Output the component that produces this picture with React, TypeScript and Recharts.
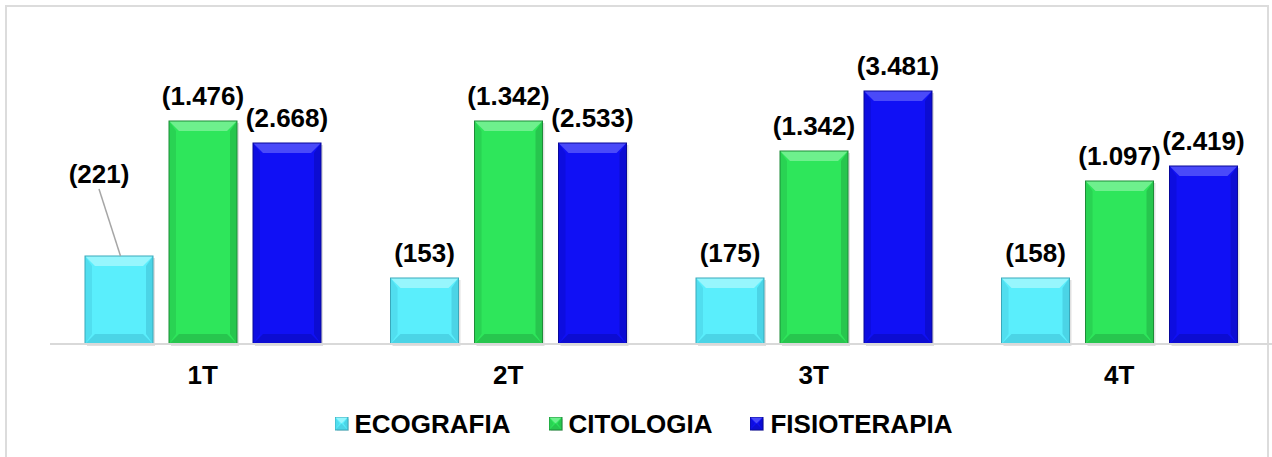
import React from 'react'
import { BarChart, Bar, XAxis, YAxis, LabelList } from 'recharts'

// trimestres
const trimestres = ['1T', '2T', '3T', '4T']

// altura dibujada de cada barra (unidades del eje, 0-300)
const ecografiaAltura = [88, 66, 66, 66]
const citologiaAltura = [223, 223, 193, 163]
const fisioterapiaAltura = [201, 201, 253, 178]

// valores mostrados en las etiquetas
const ecografiaEtiqueta = [221, 153, 175, 158]
const citologiaEtiqueta = [1476, 1342, 1342, 1097]
const fisioterapiaEtiqueta = [2668, 2533, 3481, 2419]

const series = [
  { key: 'eco', name: 'ECOGRAFIA', base: '#5aeefc', light: '#97f6fd', dark: '#4bd4e6', edge: '#39a9bb' },
  { key: 'cito', name: 'CITOLOGIA', base: '#2ee65b', light: '#6ef08d', dark: '#27c64e', edge: '#1d8c38' },
  { key: 'fisio', name: 'FISIOTERAPIA', base: '#1010f5', light: '#4a4af9', dark: '#0c0cd2', edge: '#08089a' },
]

const data = trimestres.map((t, i) => ({
  trimestre: t,
  eco: ecografiaAltura[i],
  cito: citologiaAltura[i],
  fisio: fisioterapiaAltura[i],
  ecoLabel: ecografiaEtiqueta[i],
  citoLabel: citologiaEtiqueta[i],
  fisioLabel: fisioterapiaEtiqueta[i],
}))

const FONT = "'Liberation Sans', Arial, Helvetica, sans-serif"

const fmt = (v: number) => '(' + String(v).replace(/\B(?=(\d{3})+(?!\d))/g, '.') + ')'

function BevelBar(props: any) {
  const { x, y, width: w, height: h, colors } = props
  if (!w || !h) return null
  const b = Math.min(10, h / 2)
  return (
    <g>
      <rect x={x + 2} y={y + 2} width={w} height={h} fill="#000" opacity={0.12} />
      <rect x={x} y={y} width={w} height={h} fill={colors.base} />
      <polygon
        points={`${x},${y} ${x + w},${y} ${x + w - b},${y + b} ${x + b},${y + b}`}
        fill={colors.light}
      />
      <polygon
        points={`${x},${y + h} ${x + w},${y + h} ${x + w - b},${y + h - b} ${x + b},${y + h - b}`}
        fill={colors.dark}
      />
      <polygon
        points={`${x},${y} ${x + b * 0.7},${y + b} ${x + b * 0.7},${y + h - b} ${x},${y + h}`}
        fill={colors.dark}
        opacity={0.6}
      />
      <polygon
        points={`${x + w},${y} ${x + w - b * 0.7},${y + b} ${x + w - b * 0.7},${y + h - b} ${x + w},${y + h}`}
        fill={colors.dark}
      />
      <rect x={x} y={y} width={w} height={h} fill="none" stroke={colors.edge} strokeWidth={1} />
    </g>
  )
}

function makeLabel(seriesKey: string) {
  return (props: any) => {
    const vb = props.viewBox || props
    const x = vb.x ?? props.x
    const y = vb.y ?? props.y
    const width = vb.width ?? props.width
    const cx = x + width / 2
    // la primera barra de ecografía lleva la etiqueta desplazada con línea guía
    if (seriesKey === 'eco' && props.index === 0) {
      const lx = cx - 20
      const ly = y - 73
      return (
        <g>
          <line x1={lx} y1={ly + 6} x2={cx + 1.5} y2={y} stroke="#a6a6a6" strokeWidth={1.5} />
          <text x={lx} y={ly} textAnchor="middle" fontFamily={FONT} fontSize={26} fontWeight="bold" fill="#000">
            {fmt(props.value)}
          </text>
        </g>
      )
    }
    return (
      <text x={cx} y={y - 16} textAnchor="middle" fontFamily={FONT} fontSize={26} fontWeight="bold" fill="#000">
        {fmt(props.value)}
      </text>
    )
  }
}

function TrimestreTick(props: any) {
  const { x, y, payload } = props
  return (
    <text x={x} y={y + 40} textAnchor="middle" fontFamily={FONT} fontSize={26} fontWeight="bold" fill="#000">
      {payload.value}
    </text>
  )
}

function LegendIcon({ colors }: any) {
  return (
    <svg width={14} height={14} style={{ marginRight: 6 }}>
      <BevelBar x={0} y={0} width={13} height={13} colors={{ ...colors }} />
    </svg>
  )
}

export default function App() {
  return (
    <div style={{ position: 'absolute', left: 0, top: 0, width: 1272, height: 457, overflow: 'hidden', background: '#fff' }}>
      <div
        style={{
          position: 'absolute',
          left: 5,
          top: 5,
          width: 1264,
          height: 480,
          border: '2px solid #dcdcdc',
          boxSizing: 'border-box',
        }}
      />
      <div style={{ position: 'absolute', left: 0, top: 0 }}>
        <BarChart
          width={1272}
          height={457}
          data={data}
          margin={{ top: 44, right: 0, bottom: 53, left: 50 }}
          barSize={68}
          barGap={16}
        >
          <XAxis
            dataKey="trimestre"
            height={60}
            tickLine={false}
            tickSize={0}
            tickMargin={0}
            axisLine={{ stroke: '#d9d9d9', strokeWidth: 2 }}
            tick={<TrimestreTick />}
            interval={0}
          />
          <YAxis hide domain={[0, 300]} />
          {series.map((s) => (
            <Bar
              key={s.key}
              dataKey={s.key}
              name={s.name}
              fill={s.base}
              isAnimationActive={false}
              shape={(p: any) => <BevelBar {...p} colors={s} />}
            >
              <LabelList dataKey={s.key + 'Label'} content={makeLabel(s.key)} />
            </Bar>
          ))}
        </BarChart>
      </div>
      <div
        style={{
          position: 'absolute',
          left: 0,
          top: 409,
          width: 1272,
          paddingLeft: 15,
          boxSizing: 'border-box',
          height: 30,
          display: 'flex',
          justifyContent: 'center',
          alignItems: 'center',
          fontFamily: FONT,
          fontSize: 26,
          fontWeight: 'bold',
          lineHeight: '30px',
          color: '#000',
        }}
      >
        {series.map((s, i) => (
          <div key={s.key} style={{ display: 'flex', alignItems: 'center', marginLeft: i === 0 ? 0 : 38 }}>
            <LegendIcon colors={s} />
            <span>{s.name}</span>
          </div>
        ))}
      </div>
    </div>
  )
}
